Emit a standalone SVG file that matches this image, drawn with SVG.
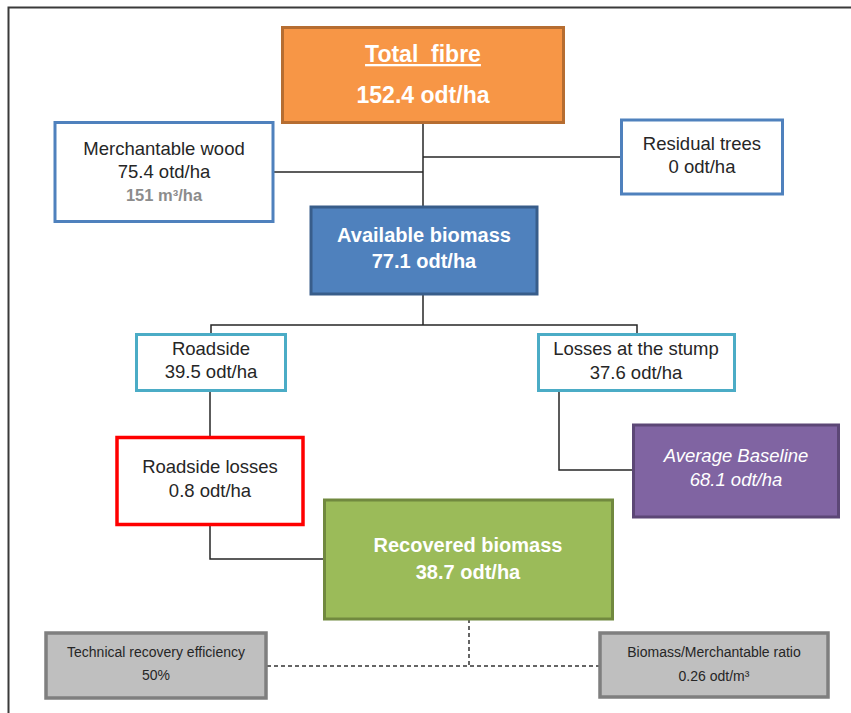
<svg xmlns="http://www.w3.org/2000/svg" width="851" height="713" viewBox="0 0 851 713">
<style>
  text { font-family: "Liberation Sans", Arial, sans-serif; text-anchor: middle; }
  .dark { fill: #262626; font-size: 18.5px; }
  .white { fill: #ffffff; font-weight: bold; font-size: 20px; }
  .small { fill: #262626; font-size: 14px; }
  .conn { stroke: #262626; stroke-width: 1.5; fill: none; }
  .dash { stroke: #333333; stroke-width: 1.5; fill: none; stroke-dasharray: 4 3; }
</style>
<rect x="0" y="0" width="851" height="713" fill="#ffffff"/>
<path d="M8.5 713 V7.5 H851" fill="none" stroke="#3a3a3a" stroke-width="2"/>

<g id="connectors">
  <path class="conn" d="M423 123 V207"/>
  <path class="conn" d="M273 172 H423"/>
  <path class="conn" d="M423 157 H621"/>
  <path class="conn" d="M423 294 V325"/>
  <path class="conn" d="M211 334 V325 H637 V334"/>
  <path class="conn" d="M210 391 V437" stroke="#555555"/>
  <path class="conn" d="M210 525 V559 H324"/>
  <path class="conn" d="M559 391 V470 H633"/>
  <path class="dash" d="M469 619 V666"/>
  <path class="dash" d="M267 666 H599"/>
</g>

<g id="total-fibre">
  <rect x="282.5" y="27.5" width="281" height="95" fill="#F79646" stroke="#B66D31" stroke-width="3"/>
  <text x="423" y="62" class="white" style="white-space:pre;font-size:23px" text-decoration="underline">Total  fibre</text>
  <text x="423" y="103" class="white" style="font-size:23px">152.4 odt/ha</text>
</g>

<g id="merchantable-wood">
  <rect x="55" y="122.5" width="218" height="99" fill="#ffffff" stroke="#4F81BD" stroke-width="3"/>
  <text x="164" y="155" class="dark">Merchantable wood</text>
  <text x="164" y="178" class="dark">75.4 otd/ha</text>
  <text x="164" y="201" fill="#8c8c8c" font-weight="bold" style="font-size:16.5px">151 m³/ha</text>
</g>

<g id="residual-trees">
  <rect x="621.5" y="120" width="161" height="74" fill="#ffffff" stroke="#4F81BD" stroke-width="3"/>
  <text x="702" y="150" class="dark">Residual trees</text>
  <text x="702" y="173" class="dark">0 odt/ha</text>
</g>

<g id="available-biomass">
  <rect x="311" y="207" width="226" height="87" fill="#4F81BD" stroke="#385D8A" stroke-width="3"/>
  <text x="424" y="242" class="white">Available biomass</text>
  <text x="424" y="268" class="white">77.1 odt/ha</text>
</g>

<g id="roadside">
  <rect x="136.5" y="334.5" width="149" height="56" fill="#ffffff" stroke="#4BACC6" stroke-width="3"/>
  <text x="211" y="355" class="dark">Roadside</text>
  <text x="211" y="378" class="dark">39.5 odt/ha</text>
</g>

<g id="losses-at-stump">
  <rect x="538.5" y="334.5" width="196" height="56" fill="#ffffff" stroke="#4BACC6" stroke-width="3"/>
  <text x="636" y="355" class="dark">Losses at the stump</text>
  <text x="636" y="379" class="dark">37.6 odt/ha</text>
</g>

<g id="roadside-losses">
  <rect x="117" y="437.5" width="186" height="87" fill="#ffffff" stroke="#FF0000" stroke-width="3.5"/>
  <text x="210" y="473" class="dark">Roadside losses</text>
  <text x="210" y="497" class="dark">0.8 odt/ha</text>
</g>

<g id="average-baseline">
  <rect x="633.5" y="425" width="205" height="92" fill="#8064A2" stroke="#5C4776" stroke-width="3"/>
  <text x="736" y="462" fill="#ffffff" font-style="italic" style="font-size:18.5px">Average Baseline</text>
  <text x="736" y="486" fill="#ffffff" font-style="italic" style="font-size:18.5px">68.1 odt/ha</text>
</g>

<g id="recovered-biomass">
  <rect x="324.5" y="500" width="288" height="119" fill="#9BBB59" stroke="#71893F" stroke-width="3"/>
  <text x="468" y="552" class="white">Recovered biomass</text>
  <text x="468" y="579" class="white">38.7 odt/ha</text>
</g>

<g id="technical-recovery-efficiency">
  <rect x="46" y="633" width="220" height="65" fill="#BFBFBF" stroke="#7F7F7F" stroke-width="3.5"/>
  <text x="156" y="657" class="small">Technical recovery efficiency</text>
  <text x="156" y="680" class="small">50%</text>
</g>

<g id="biomass-merchantable-ratio">
  <rect x="600" y="633" width="228" height="64" fill="#BFBFBF" stroke="#7F7F7F" stroke-width="3.5"/>
  <text x="714" y="657" class="small">Biomass/Merchantable ratio</text>
  <text x="714" y="681" class="small">0.26 odt/m³</text>
</g>
</svg>
